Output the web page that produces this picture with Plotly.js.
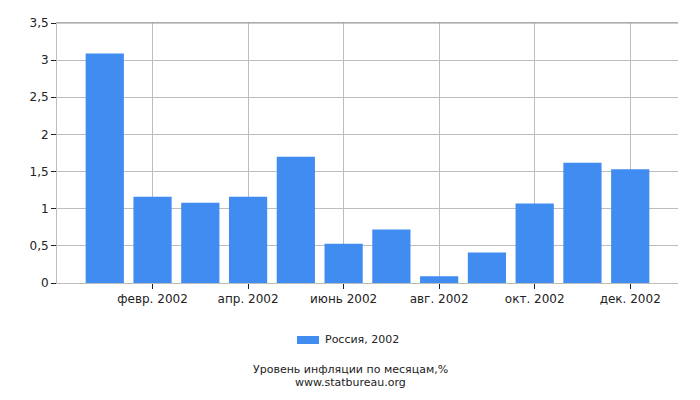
<!DOCTYPE html>
<html><head><meta charset="utf-8">
<script src="https://cdn.plot.ly/plotly-3.0.1.min.js"></script>
<style>body{margin:0}#c{width:700px;height:400px}</style>
</head><body><div id="c"></div>
<script>
var months = ['янв. 2002','февр. 2002','март 2002','апр. 2002','май 2002','июнь 2002','июль 2002','авг. 2002','сент. 2002','окт. 2002','нояб. 2002','дек. 2002'];
var values = [3.09,1.16,1.08,1.16,1.70,0.53,0.72,0.09,0.41,1.07,1.62,1.53];
var tickLabels = ['февр. 2002','апр. 2002','июнь 2002','авг. 2002','окт. 2002','дек. 2002'];
var yTicks = [0,0.5,1,1.5,2,2.5,3,3.5];
var yTickText = ['0','0,5','1','1,5','2','2,5','3','3,5'];
var seriesName = 'Россия, 2002';
var barColor = '#418CF0';

var trace = {type:'bar', x:months, y:values, name:seriesName, marker:{color:barColor}, hoverinfo:'none', showlegend:false};
var layout = {
  width:700, height:400,
  margin:{l:57, r:22, t:23, b:117},
  paper_bgcolor:'#fff', plot_bgcolor:'#fff',
  font:{family:'DejaVu Sans', size:12, color:'#222'},
  bargap:0.2,
  showlegend:false,
  xaxis:{type:'category', range:[-1,12], tickvals:tickLabels, ticktext:tickLabels,
         showgrid:true, gridcolor:'#bdbdbd', gridwidth:1,
         showline:true, linecolor:'#bdbdbd', linewidth:1, mirror:true,
         ticks:'outside', ticklen:5, tickcolor:'#222', zeroline:false},
  yaxis:{range:[0,3.5], tickvals:yTicks, ticktext:yTickText,
         showgrid:true, gridcolor:'#bdbdbd', gridwidth:1,
         showline:true, linecolor:'#bdbdbd', linewidth:1,
         ticks:'outside', ticklen:5, tickcolor:'#222', zeroline:false},
  shapes:[
    {type:'line', xref:'paper', yref:'paper', x0:0, x1:1, y0:1, y1:1, line:{color:'#999', width:1}},
    {type:'rect', xref:'paper', yref:'paper', x0:0.3865, x1:0.4219, y0:-0.2346, y1:-0.2038, fillcolor:barColor, line:{width:0}}
  ],
  annotations:[
    {text:seriesName, xref:'paper', yref:'paper', x:0.4283, y:-0.2192, xanchor:'left', yanchor:'middle', showarrow:false, font:{size:11}},
    {text:'Уровень инфляции по месяцам,%', xref:'paper', yref:'paper', x:0.472, y:-0.3327, xanchor:'center', yanchor:'middle', showarrow:false, font:{size:11}},
    {text:'www.statbureau.org', xref:'paper', yref:'paper', x:0.472, y:-0.3827, xanchor:'center', yanchor:'middle', showarrow:false, font:{size:11}}
  ]
};
Plotly.newPlot('c',[trace],layout,{displayModeBar:false, staticPlot:true});
</script></body></html>
